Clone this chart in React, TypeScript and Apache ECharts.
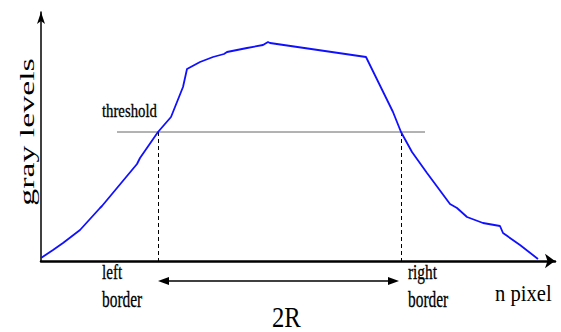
import React, { useEffect, useRef } from "react";
import * as echarts from "echarts";

// pixel index along the profile and gray level
const curveX = [0, 12, 22, 39, 59, 61, 96, 99, 117, 130, 142, 146, 159, 172, 183, 186, 206, 222, 227, 229, 325, 352, 360, 371, 386, 409, 416, 426, 442, 459, 462, 479, 497];
const curveY = [3, 11, 18, 31, 53, 55, 97, 103, 129, 144, 174, 192, 199, 204, 207, 209, 213, 216, 219, 218, 204, 149, 129, 109, 88, 57, 53, 44, 38, 35, 28, 16, 2];

const thresholdLevel = 129;
const thresholdX = [76, 384];
const borderX = [117.5, 360.5];
const arrowLevel = -20;
const arrowX = [117, 358];

const xMax = 514;
const yMax = 249;

const SERIF = "'Liberation Serif', 'Times New Roman', Times, serif";

export default function App() {
  const ref = useRef<HTMLDivElement>(null);
  useEffect(() => {
    if (!ref.current) return;
    const chart = echarts.init(ref.current, undefined, { renderer: "svg" });
    let n = 0;
    const txt = (text: string, x: number, y: number, size: number, sx: number, sy = 1, rotation = 0, align = "left", heavy = true) => ({
      id: "t" + n++,
      type: "text",
      x,
      y,
      rotation,
      scaleX: sx,
      scaleY: sy,
      style: {
        text,
        fill: "#000",
        stroke: heavy ? "#000" : "none",
        lineWidth: heavy ? 0.3 : 0,
        fontSize: size,
        fontFamily: SERIF,
        align,
        verticalAlign: "middle",
      },
      silent: true,
    });
    chart.setOption({
      animation: false,
      grid: { left: 41, right: 6, top: 12, bottom: 71 },
      xAxis: {
        type: "value",
        min: 0,
        max: xMax,
        axisLine: { show: true, onZero: false, symbol: ["none", "arrow"], symbolSize: [11, 10], lineStyle: { color: "#000", width: 2.5 } },
        axisTick: { show: false },
        axisLabel: { show: false },
        splitLine: { show: false },
      },
      yAxis: {
        type: "value",
        min: 0,
        max: yMax,
        axisLine: { show: true, symbol: ["none", "arrow"], symbolSize: [6, 12], lineStyle: { color: "#000", width: 1.5 } },
        axisTick: { show: false },
        axisLabel: { show: false },
        splitLine: { show: false },
      },
      series: [
        {
          type: "line",
          data: curveX.map((x, i) => [x, curveY[i]]),
          showSymbol: false,
          lineStyle: { color: "#1010ff", width: 1.8 },
          z: 5,
        },
        {
          type: "line",
          data: thresholdX.map((x) => [x, thresholdLevel]),
          showSymbol: false,
          lineStyle: { color: "#666", width: 1 },
          z: 3,
        },
        ...borderX.map((bx) => ({
          type: "line",
          data: [[bx, thresholdLevel], [bx, 0]],
          showSymbol: false,
          lineStyle: { color: "#000", width: 1, type: [4, 3] },
          z: 3,
        })),
      ],
      graphic: [
        txt("gray levels", 27, 132, 24, 1.41, 0.9, Math.PI / 2, "center", false),
        txt("threshold", 102, 111, 18, 0.82),
        txt("left", 102, 272, 21, 0.72),
        txt("border", 102, 299, 23, 0.67),
        txt("right", 408, 272, 21, 0.73),
        txt("border", 408, 299, 23, 0.67),
        txt("n pixel", 495, 293, 24, 0.86, 1, 0, "left", false),
        txt("2R", 272, 317, 29, 0.85, 1, 0, "left", false),
      ],
    });
    // double-headed 2R arrow, placed through the chart's own scales
    const p0 = chart.convertToPixel({ gridIndex: 0 }, [arrowX[0], arrowLevel]) as number[];
    const p1 = chart.convertToPixel({ gridIndex: 0 }, [arrowX[1], arrowLevel]) as number[];
    const hl = 11;
    const hw = 4;
    chart.setOption({
      graphic: [
        {
          id: "arrowLine",
          type: "line",
          silent: true,
          shape: { x1: p0[0] + 4, y1: p0[1], x2: p1[0] - 4, y2: p1[1] },
          style: { stroke: "#000", lineWidth: 1.4 },
        },
        {
          id: "arrowL",
          type: "polygon",
          silent: true,
          shape: { points: [[p0[0], p0[1]], [p0[0] + hl, p0[1] - hw], [p0[0] + hl, p0[1] + hw]] },
          style: { fill: "#000" },
        },
        {
          id: "arrowR",
          type: "polygon",
          silent: true,
          shape: { points: [[p1[0], p1[1]], [p1[0] - hl, p1[1] - hw], [p1[0] - hl, p1[1] + hw]] },
          style: { fill: "#000" },
        },
      ],
    });
    return () => chart.dispose();
  }, []);
  return <div ref={ref} style={{ width: 561, height: 332, position: "absolute", left: 0, top: 0 }} />;
}
